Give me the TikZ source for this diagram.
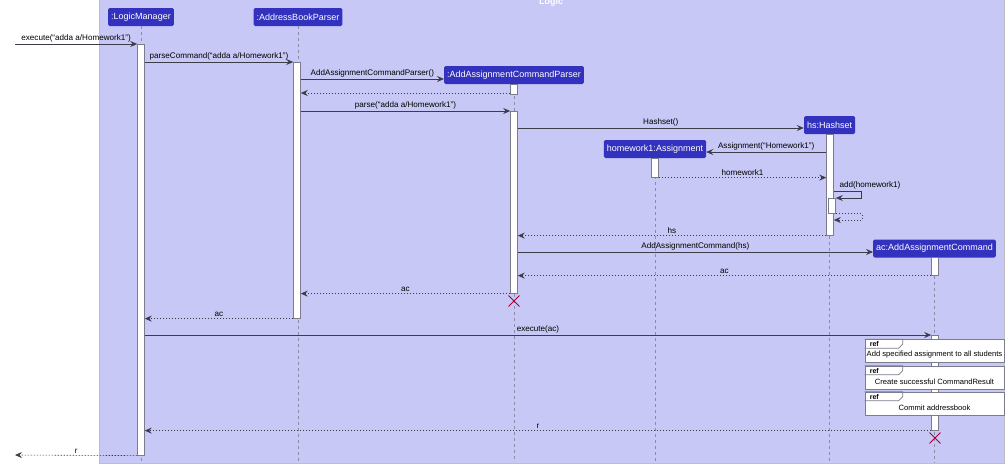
\documentclass[tikz,border=0pt]{standalone}
\usepackage{fontspec}
\setmainfont{Liberation Sans}
\usepackage{tikz}
\usetikzlibrary{arrows.meta, positioning, shapes.misc, calc}
\definecolor{logicbg}{HTML}{C7C8F5}
\definecolor{partblue}{HTML}{3232BE}
\definecolor{lifegray}{HTML}{8C8CA8}
\definecolor{bargray}{HTML}{7C7C8C}
\definecolor{msggray}{HTML}{3C3C48}
\definecolor{killred}{HTML}{A80036}
\tikzstyle{part} = [rectangle,
rounded corners=1.5pt,
fill=partblue, text=white,
minimum height=18pt,
inner xsep=3pt, inner ysep=0pt,
font=\fontsize{9}{10}\selectfont]
\tikzstyle{bar} = [rectangle, draw=bargray, fill=white,
minimum width=7pt, inner sep=0pt, anchor=north, line width=0.6pt]
\tikzstyle{lifeline} = [draw=lifegray, dash pattern=on 3pt off 3pt, line width=0.6pt]
\tikzstyle{arrow} = [draw=msggray, line width=0.7pt,
-{Stealth[length=7pt, width=6pt, inset=2.5pt]}]
\tikzstyle{reply} = [arrow, dash pattern=on 1.5pt off 1.5pt, line width=0.6pt]
\tikzstyle{lbl} = [font=\fontsize{8.1}{9}\selectfont, text=black, inner sep=1.5pt, anchor=south]
\tikzstyle{kill} = [cross out, draw=killred, line width=0.9pt, minimum size=10pt, inner sep=0pt]
\tikzstyle{refbox} = [rectangle, draw=bargray, fill=white,
minimum width=139pt, minimum height=23pt, line width=0.7pt]
\tikzstyle{reftext} = [font=\fontsize{7.6}{8}\selectfont, inner sep=0pt]

\begin{document}
\begin{tikzpicture}[x=1pt, y=-1pt]
            \useasboundingbox (0,0) rectangle (1006,464);
            \clip (0,0) rectangle (1006,464);
            \node (logic) [rectangle, fill=logicbg, draw=gray!50, minimum width=905pt,
                minimum height=464pt, anchor=north west, inner sep=0pt] at (99,-1) {};
            \node (logictitle) [anchor=base, text=white, font=\bfseries\fontsize{9}{10}\selectfont] at (551,4) {Logic};

            \node (lm) [part] at (141,17) {:LogicManager};
            \node (abp) [part] at (298,17) {:AddressBookParser};
            \node (aacp) [part] at (514,75) {:AddAssignmentCommandParser};
            \node (hw) [part] at (655,149) {homework1:Assignment};
            \node (hs) [part] at (829.5,125) {hs:Hashset};
            \node (ac) [part] at (934.5,248.5) {ac:AddAssignmentCommand};

            \foreach \p in {lm, abp, aacp, hw, hs, ac}
                \draw [lifeline] (\p.south) -- (\p.south |- 0,462);

            \node (barlm) [bar, minimum height=411pt] at (141,44) {};
            \node (barabp) [bar, minimum height=256pt] at (297,62) {};
            \node (baraacp1) [bar, minimum height=10pt] at (514,84) {};
            \node (baraacp2) [bar, minimum height=182pt] at (514,111) {};
            \node (barhs) [bar, minimum height=101pt] at (830,134) {};
            \node (barhs2) [bar, minimum height=15pt] at (832,198) {};
            \node (barhw) [bar, minimum height=19pt] at (655,158) {};
            \node (barac1) [bar, minimum height=18pt] at (935,257) {};
            \node (barac2) [bar, minimum height=95pt] at (935,335) {};

            \coordinate (entry) at (15,44);
            \coordinate (exit) at (15,455);

            \draw [arrow] (entry) -- node[lbl] {execute(“adda a/Homework1”)} (barlm.north west);
            \draw [arrow] (barlm.east |- 0,62) -- node[lbl] {parseCommand(“adda a/Homework1”)} (barabp.north west);
            \draw [arrow] (barabp.east |- 0,79) -- node[lbl] {AddAssignmentCommandParser()} (aacp.west |- 0,79);
            \draw [reply] (baraacp1.west |- 0,93) -- (barabp.east |- 0,93);
            \draw [arrow] (barabp.east |- 0,111) -- node[lbl] {parse(“adda a/Homework1”)} (baraacp2.north west);
            \draw [arrow] (baraacp2.east |- 0,128) -- node[lbl] {Hashset()} (hs.west |- 0,128);
            \draw [arrow] (barhs.west |- 0,152) -- node[lbl] {Assignment(“Homework1”)} (hw.east |- 0,152);
            \draw [reply] (barhw.south east) -- node[lbl] {homework1} (barhs.west |- barhw.south);
            \draw [arrow] (barhs.east |- 0,191) -- node[lbl, anchor=south west, at start, xshift=4pt] {add(homework1)}
                ++(28,0) |- (barhs2.north east);
            \draw [reply] (barhs2.south east) -- ++(26,0) |- (barhs.east |- 0,220);
            \draw [reply] (barhs.south west) -- node[lbl] {hs} (baraacp2.east |- barhs.south);
            \draw [arrow] (baraacp2.east |- 0,252) -- node[lbl] {AddAssignmentCommand(hs)} (ac.west |- 0,252);
            \draw [reply] (barac1.south west) -- node[lbl] {ac} (baraacp2.east |- barac1.south);
            \draw [reply] (baraacp2.south west) -- node[lbl] {ac} (barabp.east |- baraacp2.south);
            \node (killaacp) [kill] at (514,301) {};
            \draw [reply] (barabp.south west) -- node[lbl] {ac} (barlm.east |- barabp.south);
            \draw [arrow] (barlm.east |- barac2.north) -- node[lbl] {execute(ac)} (barac2.north west);

            \node (ref1) [refbox] at (934.5,351) {};
            \node (ref2) [refbox] at (934.5,377.5) {};
            \node (ref3) [refbox] at (934.5,403.5) {};
            \foreach \rb/\txt in {ref1/Add specified assignment to all students,
                ref2/Create successful CommandResult, ref3/Commit addressbook} {
                \draw [draw=bargray, line width=0.7pt] (\rb.north west) -- ++(38,0) -- ++(0,5) -- ++(-4,4) -- ++(-34,0);
                \node (\rb-tag) [anchor=base west, inner sep=0pt, font=\bfseries\fontsize{7}{8}\selectfont]
                    at ($(\rb.north west)+(5,7.5)$) {ref};
                \node (\rb-text) [reftext] at ($(\rb.center)+(0,4)$) {\txt};
            }

            \draw [reply] (barac2.south west) -- node[lbl] {r} (barlm.east |- barac2.south);
            \node (killac) [kill] at (935,438) {};
            \draw [reply] (barlm.south west) -- node[lbl] {r} (exit);
        \end{tikzpicture}
\end{document}
